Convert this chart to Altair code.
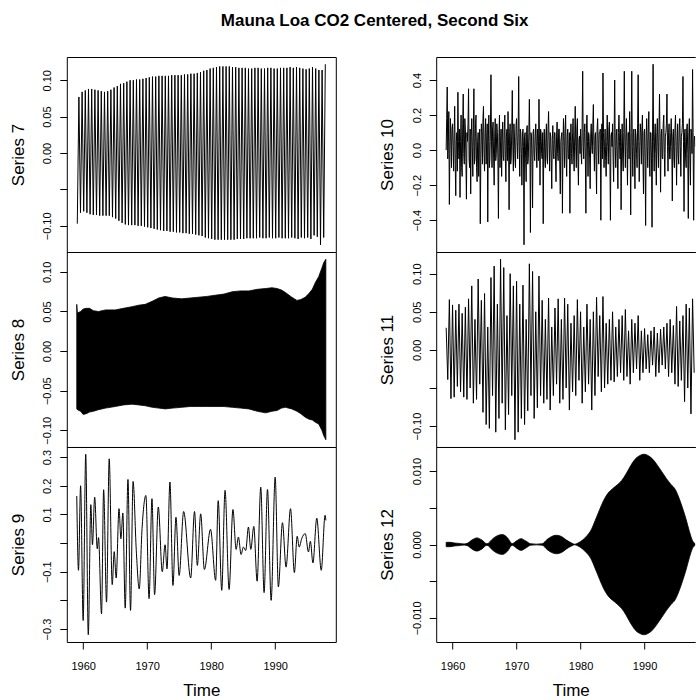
import json
import altair as alt
import pandas as pd

FONT = "Liberation Sans"

# ---------------- data ----------------
# Series 7: semi-annual component, troughs/peaks every 3 months from 1959+1/12
s7_start, s7_step = 1959 + 1 / 12, 0.25
s7 = [
    -0.097, 0.077, -0.082, 0.084,
    -0.080, 0.086, -0.082, 0.088,
    -0.084, 0.088, -0.085, 0.087,
    -0.085, 0.086, -0.086, 0.085,
    -0.086, 0.084, -0.086, 0.085,
    -0.086, 0.087, -0.088, 0.090,
    -0.090, 0.092, -0.093, 0.095,
    -0.096, 0.096, -0.098, 0.098,
    -0.099, 0.100, -0.099, 0.100,
    -0.099, 0.101, -0.100, 0.101,
    -0.100, 0.102, -0.101, 0.103,
    -0.102, 0.104, -0.103, 0.105,
    -0.104, 0.105, -0.105, 0.106,
    -0.106, 0.106, -0.107, 0.106,
    -0.107, 0.106, -0.108, 0.107,
    -0.108, 0.107, -0.109, 0.107,
    -0.109, 0.107, -0.110, 0.108,
    -0.110, 0.108, -0.111, 0.109,
    -0.111, 0.109, -0.112, 0.110,
    -0.113, 0.111, -0.114, 0.113,
    -0.116, 0.114, -0.117, 0.116,
    -0.118, 0.117, -0.119, 0.118,
    -0.119, 0.119, -0.119, 0.119,
    -0.119, 0.119, -0.119, 0.119,
    -0.119, 0.118, -0.119, 0.118,
    -0.118, 0.117, -0.118, 0.117,
    -0.118, 0.117, -0.117, 0.116,
    -0.117, 0.116, -0.117, 0.117,
    -0.117, 0.117, -0.116, 0.116,
    -0.117, 0.116, -0.117, 0.117,
    -0.116, 0.117, -0.117, 0.116,
    -0.117, 0.116, -0.116, 0.117,
    -0.117, 0.117, -0.117, 0.117,
    -0.117, 0.118, -0.116, 0.117,
    -0.117, 0.118, -0.118, 0.117,
    -0.116, 0.116, -0.117, 0.115,
    -0.116, 0.116, -0.118, 0.118,
    -0.113, 0.116, -0.115, 0.114,
    -0.126, 0.114, -0.116, 0.122,
]

# Series 8: dense oscillation, drawn as its upper / lower envelope
t8 = [1959.0, 1959.1, 1959.6, 1960.0, 1960.5, 1961.0, 1961.6, 1962.4, 1963.5, 1965.0,
      1966.3, 1967.6, 1968.7, 1969.7, 1970.8, 1971.8, 1972.8, 1974.0, 1975.4, 1976.7,
      1978.0, 1979.3, 1980.6, 1982.0, 1983.3, 1984.6, 1985.9, 1987.2, 1988.5, 1989.5,
      1990.3, 1991.0, 1991.6, 1992.6, 1993.4, 1994.0, 1994.7, 1995.3, 1995.8, 1996.3,
      1996.8, 1997.3, 1997.6, 1997.92]
up8 = [0.059, 0.048, 0.050, 0.053, 0.054, 0.054, 0.051, 0.050, 0.052, 0.052,
       0.054, 0.056, 0.058, 0.059, 0.063, 0.067, 0.069, 0.067, 0.066, 0.067,
       0.068, 0.069, 0.0705, 0.072, 0.075, 0.076, 0.076, 0.078, 0.079, 0.080,
       0.079, 0.077, 0.074, 0.068, 0.064, 0.065, 0.068, 0.073, 0.078, 0.087,
       0.094, 0.105, 0.112, 0.116]
lo8 = [-0.073, -0.074, -0.076, -0.080, -0.079, -0.077, -0.076, -0.074, -0.072, -0.070,
       -0.068, -0.067, -0.068, -0.069, -0.071, -0.072, -0.073, -0.072, -0.071, -0.070,
       -0.070, -0.070, -0.070, -0.070, -0.071, -0.072, -0.073, -0.076, -0.078, -0.076,
       -0.075, -0.072, -0.071, -0.073, -0.076, -0.079, -0.0835, -0.086, -0.087, -0.090,
       -0.092, -0.100, -0.107, -0.112]

# Series 9: turning points of the smooth oscillation
t9 = [1959.0, 1959.27, 1959.6, 1960.0, 1960.4, 1960.8, 1961.2, 1961.45, 1961.8, 1962.2,
      1962.4, 1962.87, 1963.2, 1963.65, 1964.07, 1964.54, 1964.85, 1965.16, 1965.6, 1965.9,
      1966.2, 1966.57, 1967.0, 1967.4, 1967.8, 1968.3, 1968.76, 1969.2, 1969.8, 1970.3,
      1970.75, 1971.16, 1971.74, 1972.36, 1972.8, 1973.1, 1973.56, 1974.03, 1974.5, 1975.0,
      1975.7, 1976.8, 1977.4, 1977.84, 1978.36, 1978.94, 1979.9, 1980.7, 1981.1, 1981.65,
      1982.17, 1982.8, 1983.4, 1983.9, 1984.26, 1984.67, 1985.04, 1985.4, 1985.82, 1986.19,
      1986.66, 1987.18, 1987.75, 1988.27, 1988.8, 1989.37, 1990.0, 1990.5, 1991.14, 1991.7,
      1992.4, 1993.0, 1993.44, 1993.75, 1994.17, 1994.7, 1995.2, 1995.5, 1995.9, 1996.5,
      1997.2, 1997.8, 1997.92]
v9 = [0.164, -0.095, 0.20, -0.27, 0.31, -0.32, 0.134, -0.006, 0.16, -0.02,
      0.019, -0.247, 0.186, -0.206, 0.294, -0.145, -0.03, -0.122, 0.12, 0.015,
      0.105, -0.227, 0.222, -0.235, 0.215, -0.026, -0.16, 0.05, 0.166, -0.194,
      0.155, -0.18, 0.126, -0.10, -0.006, -0.09, 0.213, -0.148, 0.09, -0.113,
      0.11, -0.122, 0.11, -0.078, 0.102, -0.092, 0.048, -0.13, 0.148, -0.165,
      0.184, -0.162, 0.117, -0.022, 0.021, -0.04, -0.014, -0.026, 0.056, -0.022,
      0.058, -0.133, 0.195, -0.173, 0.187, -0.2, 0.23, -0.153, 0.071, -0.084,
      0.12, -0.103, 0.024, -0.014, 0.017, 0.033, -0.031, 0.006, -0.069, 0.087,
      -0.095, 0.097, 0.079]

# Series 10: irregular; even months (1959 + k/6) and odd months (1959 + 1/12 + k/6)
s10_start, s10_step = 1959.0, 1 / 6
s10 = [
    0.00, 0.36, 0.05, -0.31, 0.18, -0.10,
    0.15, -0.12, 0.25, -0.26, 0.10, 0.33,
    -0.05, -0.27, 0.20, -0.15, 0.32, -0.08,
    0.12, -0.28, 0.05, 0.35, -0.10, -0.25,
    0.18, -0.15, 0.35, -0.05, 0.20, -0.18,
    0.10, 0.05, -0.42, 0.15, -0.08, 0.25,
    -0.12, 0.18, 0.05, -0.41, 0.20, -0.05,
    0.43, -0.10, 0.16, -0.20, 0.18, -0.02,
    0.10, -0.39, 0.20, 0.05, -0.15, 0.16,
    -0.06, 0.20, -0.18, 0.12, 0.22, -0.34,
    0.15, -0.05, 0.34, -0.12, 0.08, -0.10,
    0.18, -0.05, 0.42, -0.15, 0.10, -0.20,
    0.12, -0.54, 0.10, -0.18, 0.14, -0.05,
    0.29, -0.47, 0.08, -0.33, 0.12, -0.06,
    0.15, -0.10, 0.05, 0.29, -0.20, 0.10,
    -0.05, -0.42, 0.12, -0.10, 0.15, -0.08,
    0.22, -0.12, 0.08, -0.22, 0.14, -0.05,
    0.10, -0.18, 0.16, -0.06, 0.12, -0.25,
    0.08, -0.36, 0.18, -0.10, 0.20, -0.15,
    0.12, -0.05, -0.36, 0.15, -0.08, 0.18,
    -0.12, 0.25, -0.10, 0.18, -0.20, 0.08,
    0.12, -0.08, 0.45, -0.05, 0.15, -0.36,
    0.20, -0.15, 0.08, -0.22, 0.15, -0.02,
    0.26, -0.12, 0.10, -0.25, 0.18, -0.08,
    0.10, -0.40, 0.15, 0.44, -0.10, 0.12,
    -0.15, 0.20, -0.08, 0.16, -0.40, 0.10,
    0.15, -0.18, 0.40, -0.10, 0.12, -0.22,
    0.20, -0.05, -0.34, 0.15, -0.12, 0.45,
    -0.10, 0.18, -0.20, 0.10, 0.22, -0.37,
    0.45, -0.15, 0.12, -0.22, 0.08, -0.10,
    0.43, -0.18, 0.15, -0.08, 0.20, -0.25,
    0.12, -0.43, 0.18, -0.10, 0.22, -0.15,
    0.10, -0.44, 0.49, -0.12, 0.15, -0.20,
    0.18, -0.10, 0.32, -0.24, 0.12, -0.05,
    0.20, -0.15, 0.10, 0.32, -0.12, 0.15,
    -0.05, 0.18, -0.29, 0.12, -0.10, 0.20,
    -0.20, 0.15, -0.08, 0.18, -0.15, 0.10,
    0.42, -0.35, 0.12, -0.10, 0.15, -0.39,
    0.18, -0.20, 0.10, 0.46, -0.40, 0.08,
]
s10_odd_start = 1959.0 + 1 / 12
s10_odd = [
    0.18, -0.05, 0.22, -0.02, 0.08, 0.12,
    0.02, 0.10, -0.08, 0.05, -0.12, 0.05,
    0.12, 0.05, -0.10, 0.15, -0.02, 0.18,
    -0.05, 0.10, 0.15, -0.05, 0.12, 0.08,
    0.02, 0.12, -0.08, 0.15, -0.10, 0.05,
    -0.15, 0.12, -0.05, 0.10, 0.18, -0.02,
    0.10, -0.08, 0.15, 0.05, -0.10, 0.12,
    0.05, 0.12, -0.05, 0.08, -0.06, 0.15,
    -0.05, 0.08, -0.10, 0.12, 0.06, -0.04,
    0.12, -0.05, 0.08, -0.06, 0.02, 0.10,
    -0.08, 0.12, 0.02, 0.15, -0.05, 0.14,
    0.05, 0.10, 0.02, 0.12, -0.02, 0.08,
    0.02, 0.08, -0.05, 0.12, -0.08, 0.10,
    0.05, 0.10, -0.05, 0.10, -0.02, 0.08,
    0.02, 0.12, -0.06, 0.05, 0.12, -0.02,
    0.10, 0.02, -0.05, 0.08, -0.04, 0.12,
    0.05, 0.10, -0.05, 0.06, -0.02, 0.10,
    -0.05, 0.08, -0.02, 0.12, -0.08, 0.05,
    0.10, 0.02, 0.05, 0.12, -0.05, 0.08,
    -0.05, 0.10, 0.05, -0.02, 0.10, -0.04,
    0.08, 0.02, 0.12, -0.05, 0.06, -0.02,
    -0.02, 0.15, 0.02, 0.10, -0.05, 0.12,
    0.05, 0.10, -0.05, 0.08, 0.02, 0.15,
    0.02, 0.08, -0.06, 0.12, 0.04, 0.10,
    0.12, 0.05, -0.05, 0.10, 0.02, -0.06,
    0.05, 0.02, 0.12, -0.04, 0.08, 0.02,
    -0.05, 0.10, 0.02, 0.08, -0.05, 0.10,
    0.05, 0.12, 0.02, -0.05, 0.10, 0.05,
    0.08, 0.02, 0.10, -0.05, 0.05, 0.10,
    0.02, 0.10, -0.05, 0.12, -0.02, 0.15,
    0.05, 0.02, 0.10, 0.12, -0.05, 0.10,
    -0.05, 0.08, 0.02, 0.12, -0.04, 0.10,
    -0.05, 0.12, 0.05, 0.08, -0.02, 0.10,
    0.02, 0.12, 0.05, 0.08, -0.04, 0.15,
    -0.02, 0.08, 0.15, 0.02, 0.10, -0.05,
    0.10, 0.02, 0.08, -0.05, 0.12, 0.02,
    0.05, -0.02, 0.12, 0.02, 0.08, 0.15,
    0.05, 0.10, -0.05, 0.12, -0.02, 0.10,
    -0.05, 0.12, -0.02, 0.10, 0.05, 0.02,
]

# Series 11: peaks / troughs every 3 months from 1959
s11_start, s11_step = 1959.0, 0.25
s11 = [
    0.029, -0.039, 0.066, -0.064,
    0.059, -0.062, 0.052, -0.048,
    0.060, -0.055, 0.048, -0.062,
    0.056, -0.065, 0.067, -0.050,
    0.084, -0.070, 0.040, -0.065,
    0.093, -0.045, 0.065, -0.082,
    0.074, -0.098, 0.030, -0.103,
    0.095, -0.060, 0.110, -0.108,
    0.060, -0.090, 0.119, -0.070,
    0.108, -0.105, 0.045, -0.085,
    0.100, -0.060, 0.084, -0.118,
    0.090, -0.108, 0.060, -0.090,
    0.085, -0.098, 0.040, -0.080,
    0.113, -0.060, 0.103, -0.090,
    0.050, -0.076, 0.097, -0.060,
    0.065, -0.070, 0.040, -0.065,
    0.068, -0.079, 0.030, -0.060,
    0.055, -0.045, 0.067, -0.070,
    0.040, -0.065, 0.068, -0.050,
    0.060, -0.079, 0.035, -0.055,
    0.045, -0.060, 0.066, -0.040,
    0.050, -0.070, 0.030, -0.055,
    0.060, -0.045, 0.040, -0.079,
    0.050, -0.060, 0.069, -0.035,
    0.045, -0.055, 0.070, -0.050,
    0.035, -0.045, 0.040, -0.040,
    0.050, -0.042, 0.030, -0.035,
    0.040, -0.030, 0.045, -0.040,
    0.053, -0.035, 0.025, -0.045,
    0.040, -0.030, 0.035, -0.025,
    0.045, -0.040, 0.025, -0.030,
    0.028, -0.025, 0.020, -0.030,
    0.025, -0.020, 0.030, -0.035,
    0.022, -0.030, 0.027, -0.020,
    0.030, -0.025, 0.035, -0.035,
    0.040, -0.030, 0.032, -0.045,
    0.057, -0.048, 0.038, -0.040,
    0.045, -0.068, 0.060, -0.050,
    0.055, -0.084, 0.067, -0.030,
]

# Series 12: very fast oscillation, drawn as its envelope
t12 = [1959.0, 1959.6, 1960.3, 1961.0, 1961.8, 1962.4, 1963.0, 1963.8, 1964.6, 1965.35,
       1966.3, 1967.0, 1967.8, 1968.6, 1969.3, 1970.0, 1970.7, 1971.4, 1972.2, 1973.1,
       1974.0, 1974.8, 1975.5, 1976.2, 1977.0, 1977.8, 1978.6, 1979.05, 1979.6, 1980.3,
       1981.0, 1981.6, 1982.3, 1983.0, 1983.6, 1984.3, 1985.0, 1985.7, 1986.4, 1987.1,
       1987.8, 1988.5, 1989.2, 1989.9, 1990.6, 1991.3, 1992.0, 1992.7, 1993.4, 1994.1,
       1994.8, 1995.4, 1996.0, 1996.5, 1997.0, 1997.5, 1997.92]
up12 = [0.0003, 0.0003, 0.0002, 0.00015, 0.00008, 0.0002, 0.0006, 0.0009, 0.0006, 0.0001,
        0.0008, 0.0012, 0.00135, 0.0009, 0.0001, 0.0005, 0.0008, 0.0005, 0.0001, 0.00005,
        0.0001, 0.0007, 0.0011, 0.00126, 0.0011, 0.0006, 0.0002, 0.00003, 0.0002, 0.0006,
        0.0012, 0.0019, 0.0033, 0.0048, 0.0060, 0.0070, 0.0076, 0.0081, 0.0087, 0.0096,
        0.0107, 0.0116, 0.0121, 0.0123, 0.0121, 0.0116, 0.0108, 0.0099, 0.0090, 0.0082,
        0.0075, 0.0063, 0.0048, 0.0034, 0.0018, 0.0005, 0.0001]
lo12 = [-0.0003, -0.0003, -0.0002, -0.00015, -0.00008, -0.0002, -0.0006, -0.0009, -0.0006, -0.0001,
        -0.0008, -0.0012, -0.00135, -0.0009, -0.0001, -0.0005, -0.0008, -0.0005, -0.0001, -0.00005,
        -0.0001, -0.0007, -0.0011, -0.00126, -0.0011, -0.0006, -0.0002, -0.00003, -0.0002, -0.0006,
        -0.0012, -0.0019, -0.0033, -0.0048, -0.0060, -0.0070, -0.0076, -0.0081, -0.0087, -0.0096,
        -0.0107, -0.0116, -0.0121, -0.0123, -0.0121, -0.0116, -0.0108, -0.0099, -0.0090, -0.0082,
        -0.0075, -0.0063, -0.0048, -0.0034, -0.0018, -0.0005, -0.0001]

x_ticks = [1960, 1970, 1980, 1990]
title_text = "Mauna Loa CO2 Centered, Second Six"

# ---------------- layout ----------------
W_L, W_R, H = 269, 259, 195
T_FIRST, T_LAST = 1959.0, 1959 + 467 / 12
SPAN = T_LAST - T_FIRST
XL = T_FIRST - 0.04 * SPAN
XH = T_LAST + 0.04 * SPAN
XR = XL + (XH - XL) * W_R / W_L   # right column is cut off by the page edge


def ydom(lo, hi):
    r = hi - lo
    return [lo - 0.04 * r, hi + 0.04 * r]


def grid_df(start, step, vals):
    return pd.DataFrame({"t": [start + i * step for i in range(len(vals))], "v": vals})


def y_axis(title, ticks, labeled, fmt):
    expr = ("indexof(" + json.dumps(labeled) + ", datum.value) >= 0 ? format(datum.value, '"
            + fmt + "') : ''")
    return alt.Axis(
        title=title, values=ticks, labelExpr=expr, grid=False, domain=False,
        tickColor="black", tickSize=7, tickWidth=1,
        labelAngle=270, labelAlign="center", labelBaseline="alphabetic",
        labelPadding=8.8, labelFont=FONT, labelFontSize=11, labelColor="black",
        labelOverlap=False, labelFlush=False,
        titleFont=FONT, titleFontSize=17, titleFontWeight="normal", titleColor="black",
        titleAngle=270, titleAlign="center", titleBaseline="alphabetic",
        titleX=-43.5, titleY=H / 2,
    )


def x_axis():
    return alt.Axis(
        title="Time", values=x_ticks, format="d", grid=False, domain=False,
        tickColor="black", tickSize=7, tickWidth=1,
        labelAngle=0, labelAlign="center", labelBaseline="alphabetic",
        labelPadding=20.3, labelFont=FONT, labelFontSize=11, labelColor="black",
        labelOverlap=False, labelFlush=False,
        titleFont=FONT, titleFontSize=17, titleFontWeight="normal", titleColor="black",
        titleAlign="center", titleBaseline="alphabetic", titleX=W_L / 2, titleY=53.3,
    )


def xenc(right, bottom):
    dom = [XL, XR] if right else [XL, XH]
    ax = x_axis() if bottom else None
    return alt.X("t:Q", scale=alt.Scale(domain=dom, nice=False, zero=False), axis=ax)


def finish(ch, right):
    if right:
        # box open on its right side: the page edge cuts the panel there
        return ch.properties(width=W_R, height=H, view=alt.ViewBackground(
            stroke="black", strokeWidth=1, strokeDash=[W_R, H, W_R + H, 0]))
    return ch.properties(width=W_L, height=H)


def line_panel(df, dom, ax, right, bottom, interp="linear"):
    ch = alt.Chart(df).mark_line(color="black", strokeWidth=1, interpolate=interp, clip=True).encode(
        x=xenc(right, bottom),
        y=alt.Y("v:Q", scale=alt.Scale(domain=dom, nice=False, zero=False), axis=ax),
        order="t:Q",
    )
    return finish(ch, right)


def band_panel(df, dom, ax, right, bottom, interp="linear"):
    ch = alt.Chart(df).mark_area(color="black", stroke="black", strokeWidth=0.8,
                                 interpolate=interp, clip=True).encode(
        x=xenc(right, bottom),
        y=alt.Y("hi:Q", scale=alt.Scale(domain=dom, nice=False, zero=False), axis=ax),
        y2="lo:Q",
    )
    return finish(ch, right)


# ---------------- panels ----------------
d7 = ydom(min(s7), max(s7))
p7 = line_panel(grid_df(s7_start, s7_step, s7), d7,
                y_axis("Series 7", [-0.1, -0.05, 0.0, 0.05, 0.1], [-0.1, 0.0, 0.05, 0.1], ".2f"),
                False, False)

d8 = ydom(min(lo8), max(up8))
p8 = band_panel(pd.DataFrame({"t": t8, "hi": up8, "lo": lo8}), d8,
                y_axis("Series 8", [-0.1, -0.05, 0.0, 0.05, 0.1], [-0.1, -0.05, 0.0, 0.05, 0.1], ".2f"),
                False, False)

d9 = ydom(min(v9), max(v9))
p9 = line_panel(pd.DataFrame({"t": t9, "v": v9}), d9,
                y_axis("Series 9", [-0.3, -0.2, -0.1, 0.0, 0.1, 0.2, 0.3], [-0.3, -0.1, 0.1, 0.2, 0.3], ".1f"),
                False, True, interp="monotone")

df10 = pd.concat([grid_df(s10_start, s10_step, s10),
                  grid_df(s10_odd_start, s10_step, s10_odd)]).sort_values("t").reset_index(drop=True)
d10 = ydom(min(df10["v"]), max(df10["v"]))
p10 = line_panel(df10, d10,
                 y_axis("Series 10", [-0.4, -0.2, 0.0, 0.2, 0.4], [-0.4, -0.2, 0.0, 0.2, 0.4], ".1f"),
                 True, False)

d11 = ydom(min(s11), max(s11))
p11 = line_panel(grid_df(s11_start, s11_step, s11), d11,
                 y_axis("Series 11", [-0.1, -0.05, 0.0, 0.05, 0.1], [-0.1, 0.0, 0.05, 0.1], ".2f"),
                 True, False)

d12 = ydom(min(lo12), max(up12))
p12 = band_panel(pd.DataFrame({"t": t12, "hi": up12, "lo": lo12}), d12,
                 y_axis("Series 12", [-0.01, -0.005, 0.0, 0.005, 0.01], [-0.01, 0.0, 0.01], ".3f"),
                 True, True, interp="monotone")

chart = alt.concat(
    p7, p10, p8, p11, p9, p12,
    columns=2, spacing={"row": 0, "column": 100.4}, bounds="flush",
    title=alt.TitleParams(text=title_text, anchor="start", dx=212, offset=27,
                          font=FONT, fontSize=17, fontWeight="bold", color="black"),
    padding={"left": 8.8, "top": 11, "right": 0, "bottom": 0},
).configure(font=FONT, background="white").configure_view(stroke="black", strokeWidth=1)

chart.save("out.html", embed_options={"renderer": "svg", "actions": False})
